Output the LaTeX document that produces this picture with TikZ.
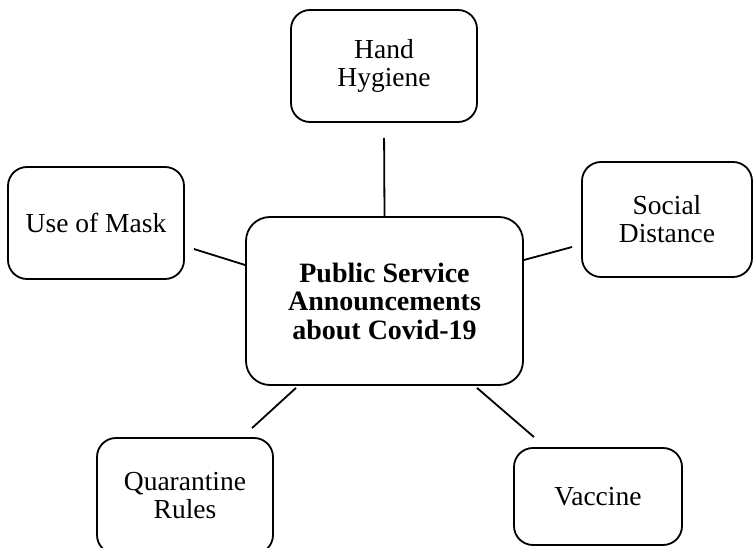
\documentclass[tikz,border=0pt]{standalone}
\usepackage{fontspec}
\setmainfont{Liberation Serif}
\usetikzlibrary{calc}
\begin{document}
\begin{tikzpicture}[x=1pt,y=1pt,
  box/.style={draw,line width=1.8pt,rounded corners=19pt,align=center,inner sep=0pt,
    font=\fontsize{27.5}{28}\selectfont},
  conn/.style={line width=1.8pt}]
\useasboundingbox (0,0) rectangle (753,547);
\node[box,minimum width=186pt,minimum height=112pt] (hand) at (384,481) {Hand\\Hygiene};
\node[box,rounded corners=24pt,minimum width=277pt,minimum height=168pt,
  font=\fontsize{28}{28.5}\selectfont\bfseries] (c) at (384.5,246) {Public Service\\Announcements\\about Covid-19};
\node[box,minimum width=176pt,minimum height=112pt] (mask) at (96,324) {Use of Mask};
\node[box,minimum width=170pt,minimum height=115pt] (social) at (667,327.5) {Social\\Distance};
\node[box,minimum width=176pt,minimum height=116pt] (quar) at (185,51) {Quarantine\\Rules};
\node[box,minimum width=168pt,minimum height=97pt] (vacc) at (598,50.5) {Vaccine};
\draw[conn,shorten >=15pt] (c.north) -- (hand.south);
\draw[conn] ($(mask.east)+(9,-26)$) -- ($(c.west)+(0,36)$);
\draw[conn] ($(c.east)+(0,41)$) -- ($(social.west)+(-9,-27.5)$);
\draw[conn] ($(c.south)+(-88.5,-2)$) -- ($(quar.north)+(67,9)$);
\draw[conn] ($(c.south)+(92.5,-2)$) -- ($(vacc.north)+(-64,10)$);
\end{tikzpicture}
\end{document}
